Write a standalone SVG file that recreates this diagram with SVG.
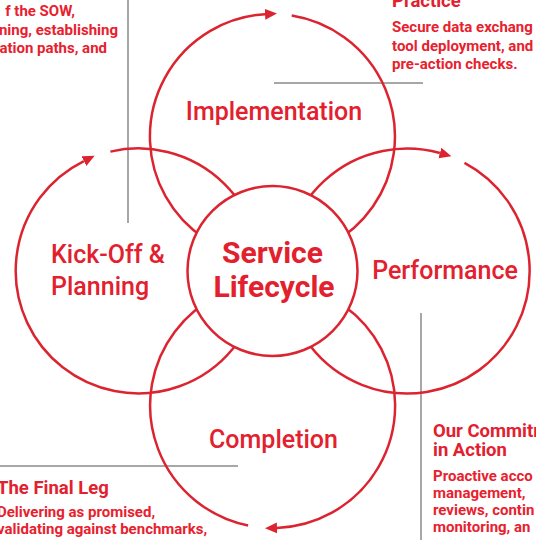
<svg xmlns="http://www.w3.org/2000/svg" width="536" height="540" viewBox="0 0 536 540">
<style>
.ring{fill:none;stroke:#dc2430;stroke-width:2.5}
.guide{stroke:#8a8a8a;stroke-width:1.5;fill:none}
.lbl{font-family:Roboto,"Liberation Sans",sans-serif;font-size:25px;font-weight:500;fill:#e3202d}
.hub{font-family:Roboto,"Liberation Sans",sans-serif;font-size:30px;font-weight:700;fill:#e3202d;text-anchor:middle}
.hd{font-family:Roboto,"Liberation Sans",sans-serif;font-size:18.5px;font-weight:700;fill:#e3202d}
.bd{font-family:Roboto,"Liberation Sans",sans-serif;font-size:15px;font-weight:700;fill:#e8212e}
</style>
<defs>
<marker id="ah" markerUnits="userSpaceOnUse" markerWidth="12" markerHeight="12" refX="0" refY="5" orient="auto" viewBox="0 0 11 10">
<path d="M0,0 L11,5 L0,10 z" fill="#dc2430"/>
</marker>
</defs>
<g id="guides">
<line class="guide" x1="128" y1="0" x2="128" y2="223"/>
<line class="guide" x1="274" y1="83" x2="423" y2="83"/>
<line class="guide" x1="421" y1="313" x2="421" y2="540"/>
<line class="guide" x1="0" y1="466" x2="238" y2="466"/>
</g>
<g id="connectors">
<path class="ring" marker-end="url(#ah)" d="M291.7 15.5 A122.5 122.5 0 1 1 265.0 14.2"/>
<path class="ring" marker-end="url(#ah)" d="M464.5 162.8 A122.5 122.5 0 1 1 439.9 153.0"/>
<path class="ring" marker-end="url(#ah)" d="M248.1 525.5 A122.5 122.5 0 1 1 277.0 527.9"/>
<path class="ring" marker-end="url(#ah)" d="M110.4 151.6 A122.5 122.5 0 1 1 83.9 161.1"/>
</g>
<g id="implementation"><text class="lbl" x="274" y="120" text-anchor="middle">Implementation</text></g>
<g id="performance"><text class="lbl" x="445" y="279" text-anchor="middle">Performance</text></g>
<g id="completion"><text class="lbl" x="273.5" y="448" text-anchor="middle">Completion</text></g>
<g id="kickoff"><text class="lbl" x="51" y="263">Kick-Off &amp;</text><text class="lbl" x="51" y="295">Planning</text></g>
<g id="hub">
<circle cx="272.5" cy="271" r="85" fill="#fff" stroke="#dc2430" stroke-width="2.5"/>
<text class="hub" x="272.5" y="263">Service</text>
<text class="hub" x="274" y="297">Lifecycle</text>
</g>
<g id="note-kickoff">
<text class="bd" x="75" y="16" text-anchor="end">f the SOW,</text>
<text class="bd" x="118" y="34.5" text-anchor="end">ning, establishing</text>
<text class="bd" x="107" y="53" text-anchor="end">ation paths, and</text>
</g>
<g id="note-implementation">
<text class="hd" x="392" y="7">Practice</text>
<text class="bd" x="392" y="32">Secure data exchang</text>
<text class="bd" x="392" y="50.5">tool deployment, and</text>
<text class="bd" x="392" y="69">pre-action checks.</text>
</g>
<g id="note-performance">
<text class="hd" x="433" y="436.5">Our Commitm</text>
<text class="hd" x="433" y="455.5">in Action</text>
<text class="bd" x="433" y="481">Proactive acco</text>
<text class="bd" x="433" y="498">management,</text>
<text class="bd" x="433" y="515">reviews, contin</text>
<text class="bd" x="433" y="532">monitoring, an</text>
</g>
<g id="note-completion">
<text class="hd" x="-3" y="493.5">The Final Leg</text>
<text class="bd" x="-3" y="516.5">Delivering as promised,</text>
<text class="bd" x="-3" y="534">validating against benchmarks,</text>
</g>
</svg>
